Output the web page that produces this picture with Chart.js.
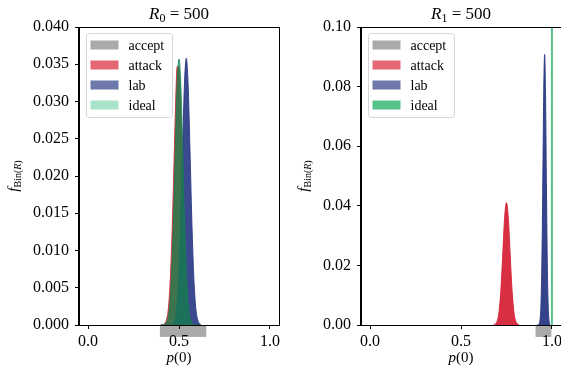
<!DOCTYPE html>
<html>
<head>
<meta charset="utf-8">
<script src="https://cdn.jsdelivr.net/npm/chart.js@4"></script>
<style>
    html, body { margin: 0; padding: 0; background: #fff; overflow: hidden; width: 561px; height: 370px; }
    #leftChart { position: absolute; left: 0; top: 0; }
    #rightChart { position: absolute; left: 290px; top: 0; }
</style>
</head>
<body>
<canvas id="leftChart" width="290" height="370"></canvas>
<canvas id="rightChart" width="276" height="370"></canvas>
<script>
// Graduations de l'axe p(0)
const xTicks = [0, 0.5, 1];

// Panneau gauche : R0 = 500
const pLeft = [0.40, 0.41, 0.42, 0.43, 0.44, 0.45, 0.46, 0.47, 0.48, 0.49, 0.50, 0.51,
               0.52, 0.53, 0.54, 0.55, 0.56, 0.57, 0.58, 0.59, 0.60, 0.61, 0.62];
const attackLeft = [0, 0.00003, 0.00017, 0.0006, 0.0019, 0.0052, 0.0110, 0.0195, 0.0286, 0.0347, 0.0343, 0.0280,
                    0.0190, 0.0106, 0.0049, 0.0018, 0.0006, 0.00016, 0.00003, 0, 0, 0, 0];
const labLeft = [0, 0, 0, 0, 0, 0.00001, 0.00006, 0.00026, 0.00096, 0.0029, 0.0072, 0.0145,
                 0.0239, 0.0324, 0.0358, 0.0324, 0.0239, 0.0145, 0.0072, 0.0029, 0.00096, 0.00026, 0.00006];
const idealLeft = [0, 0.00001, 0.00006, 0.00027, 0.00098, 0.0029, 0.0072, 0.0145, 0.0239, 0.0323, 0.0357, 0.0323,
                   0.0239, 0.0145, 0.0072, 0.0029, 0.00098, 0.00027, 0.00006, 0.00001, 0, 0, 0];
const acceptLeft = [0.395, 0.65];
const acceptDepthLeft = [-0.0016, -0.0016];

// Panneau droit : R1 = 500
const pAttackRight = [0.68, 0.69, 0.70, 0.71, 0.72, 0.73, 0.74, 0.75, 0.76, 0.77, 0.78, 0.79, 0.80, 0.81, 0.82];
const attackRight = [0.00006, 0.00034, 0.00147, 0.0049, 0.0124, 0.0242, 0.0361, 0.0410, 0.0361, 0.0242, 0.0124,
                     0.0049, 0.00147, 0.00034, 0.00006];
const pLabRight = [0.920, 0.925, 0.930, 0.935, 0.940, 0.945, 0.950, 0.955, 0.960, 0.965, 0.970, 0.975, 0.980,
                   0.985, 0.990];
const labRight = [0, 0.0001, 0.0004, 0.0019, 0.0072, 0.0215, 0.0480, 0.0780, 0.0908, 0.0770, 0.0460, 0.0190,
                  0.0055, 0.0011, 0.0001];
const pIdealRight = [1.0, 1.0];
const idealRight = [0, 1.0];
const acceptRight = [0.91, 0.997];
const acceptDepthRight = [-0.004, -0.004];

const serif = "'Liberation Serif', 'Times New Roman', serif";
const toPoints = (xs, ys) => xs.map((x, i) => ({ x: x, y: ys[i] }));

// Série remplie (histogramme binomial)
function areaSet(label, xs, ys, color, legendColor, order) {
    return {
        label: label,
        data: toPoints(xs, ys),
        backgroundColor: color,
        borderColor: color,
        borderWidth: 1,
        fill: 'origin',
        pointRadius: 0,
        cubicInterpolationMode: 'monotone',
        legendColor: legendColor,
        order: order
    };
}

// Zone d'acceptation (dessinée sous l'axe)
function acceptSet(xs, ys) {
    return {
        label: 'accept',
        data: toPoints(xs, ys),
        showLine: false,
        pointRadius: 0,
        accept: true,
        legendColor: '#aaaaaa',
        order: 3
    };
}

function drawParts(ctx, parts, x, y) {
    let w = 0;
    parts.forEach(p => { ctx.font = p.font; w += ctx.measureText(p.text).width; });
    let cx = x - w / 2;
    parts.forEach(p => {
        ctx.font = p.font;
        ctx.fillText(p.text, cx, y + (p.dy || 0));
        cx += ctx.measureText(p.text).width;
    });
}

// Rectangle gris "accept" sous l'axe des x
const acceptPlugin = {
    id: 'acceptBox',
    beforeDraw(chart) {
        const ctx = chart.ctx;
        const y0 = chart.scales.y.getPixelForValue(0);
        chart.data.datasets.forEach((ds, i) => {
            if (!ds.accept) return;
            const pts = chart.getDatasetMeta(i).data;
            ctx.save();
            ctx.fillStyle = ds.legendColor;
            ctx.fillRect(pts[0].x, y0, pts[1].x - pts[0].x, pts[0].y - y0);
            ctx.restore();
        });
    }
};

// Cadre complet autour de la zone de tracé
const framePlugin = {
    id: 'frame',
    afterDatasetsDraw(chart) {
        const { ctx, chartArea: a } = chart;
        ctx.save();
        ctx.strokeStyle = '#000';
        ctx.lineWidth = 1;
        ctx.strokeRect(Math.round(a.left) - 0.5, Math.round(a.top) + 0.5,
                       Math.round(a.right - a.left) + 1, Math.round(a.bottom - a.top));
        ctx.restore();
    }
};

// Titre, étiquettes d'axes et légende
const textPlugin = {
    id: 'texts',
    afterDraw(chart, args, opts) {
        const { ctx, chartArea: a } = chart;
        const cx = (a.left + a.right) / 2;
        ctx.save();
        ctx.fillStyle = '#000';
        ctx.textAlign = 'left';
        ctx.textBaseline = 'alphabetic';

        drawParts(ctx, [
            { text: 'R', font: 'italic 17px ' + serif },
            { text: opts.index, font: '12px ' + serif, dy: 3 },
            { text: ' = 500', font: '17px ' + serif }
        ], cx, 19);

        drawParts(ctx, [
            { text: 'p', font: 'italic 15px ' + serif },
            { text: '(0)', font: '15px ' + serif }
        ], cx, 362);

        ctx.save();
        ctx.translate(opts.yLabelX, (a.top + a.bottom) / 2);
        ctx.rotate(-Math.PI / 2);
        drawParts(ctx, [
            { text: 'f', font: 'italic 15px ' + serif },
            { text: 'Bin(', font: '10px ' + serif, dy: 2.5 },
            { text: 'R', font: 'italic 10px ' + serif, dy: 2.5 },
            { text: ')', font: '10px ' + serif, dy: 2.5 }
        ], 0, 0);
        ctx.restore();

        // Légende
        const bx = a.left + 7.5, by = a.top + 6.5;
        ctx.beginPath();
        ctx.roundRect(bx, by, 86, 84, 3);
        ctx.fillStyle = 'rgba(255,255,255,0.85)';
        ctx.fill();
        ctx.strokeStyle = '#d5d5d5';
        ctx.lineWidth = 1;
        ctx.stroke();
        ctx.font = '14px ' + serif;
        chart.data.datasets.forEach((ds, i) => {
            const yc = a.top + 18 + i * 20;
            ctx.fillStyle = ds.legendColor;
            ctx.fillRect(bx + 4, yc - 4.5, 28, 9);
            ctx.fillStyle = '#000';
            ctx.fillText(ds.label, bx + 42, yc + 4.5);
        });
        ctx.restore();
    }
};

function chartOptions(yMax, yStep, yDigits, yWidth, padRight, index, yLabelX) {
    const tickFont = { family: serif, size: 16 };
    return {
        responsive: false,
        animation: false,
        events: [],
        layout: { padding: { top: 27, right: padRight, bottom: 0, left: 0 } },
        plugins: {
            legend: { display: false },
            tooltip: { enabled: false },
            texts: { index: index, yLabelX: yLabelX }
        },
        scales: {
            x: {
                type: 'linear',
                min: -0.05,
                max: 1.05,
                afterBuildTicks: s => { s.ticks = xTicks.map(v => ({ value: v })); },
                afterFit: s => { s.height = 45; },
                ticks: { callback: v => v.toFixed(1), color: '#000', font: tickFont, padding: 3, maxRotation: 0 },
                grid: { drawOnChartArea: false, tickLength: 4, color: '#000' },
                border: { color: '#000', width: 1 }
            },
            y: {
                min: 0,
                max: yMax,
                afterFit: s => { s.width = yWidth; },
                ticks: { stepSize: yStep, callback: v => v.toFixed(yDigits), color: '#000', font: tickFont, padding: 6 },
                grid: { drawOnChartArea: false, tickLength: 4, color: '#000' },
                border: { color: '#000', width: 1 }
            }
        }
    };
}

// Graphique de gauche
new Chart(document.getElementById('leftChart'), {
    type: 'line',
    data: {
        datasets: [
            acceptSet(acceptLeft, acceptDepthLeft),
            areaSet('attack', pLeft, attackLeft, 'rgba(200, 50, 60, 0.9)', '#e36873', 2),
            areaSet('lab', pLeft, labLeft, 'rgba(42, 58, 132, 0.92)', '#6d78ab', 1),
            areaSet('ideal', pLeft, idealLeft, 'rgba(20, 130, 78, 0.78)', '#a9e4ca', 0)
        ]
    },
    options: chartOptions(0.04, 0.005, 3, 79, 11, '0', 18),
    plugins: [acceptPlugin, framePlugin, textPlugin]
});

// Graphique de droite
const idealRightSet = areaSet('ideal', pIdealRight, idealRight, '#55c38a', '#55c38a', 0);
idealRightSet.fill = false;
idealRightSet.borderWidth = 2;

new Chart(document.getElementById('rightChart'), {
    type: 'line',
    data: {
        datasets: [
            acceptSet(acceptRight, acceptDepthRight),
            areaSet('attack', pAttackRight, attackRight, 'rgba(214, 36, 56, 0.95)', '#e36873', 2),
            areaSet('lab', pLabRight, labRight, 'rgba(42, 58, 132, 0.95)', '#6d78ab', 1),
            idealRightSet
        ]
    },
    options: chartOptions(0.1, 0.02, 2, 71, 5, '1', 18),
    plugins: [acceptPlugin, framePlugin, textPlugin]
});
</script>
</body>
</html>
